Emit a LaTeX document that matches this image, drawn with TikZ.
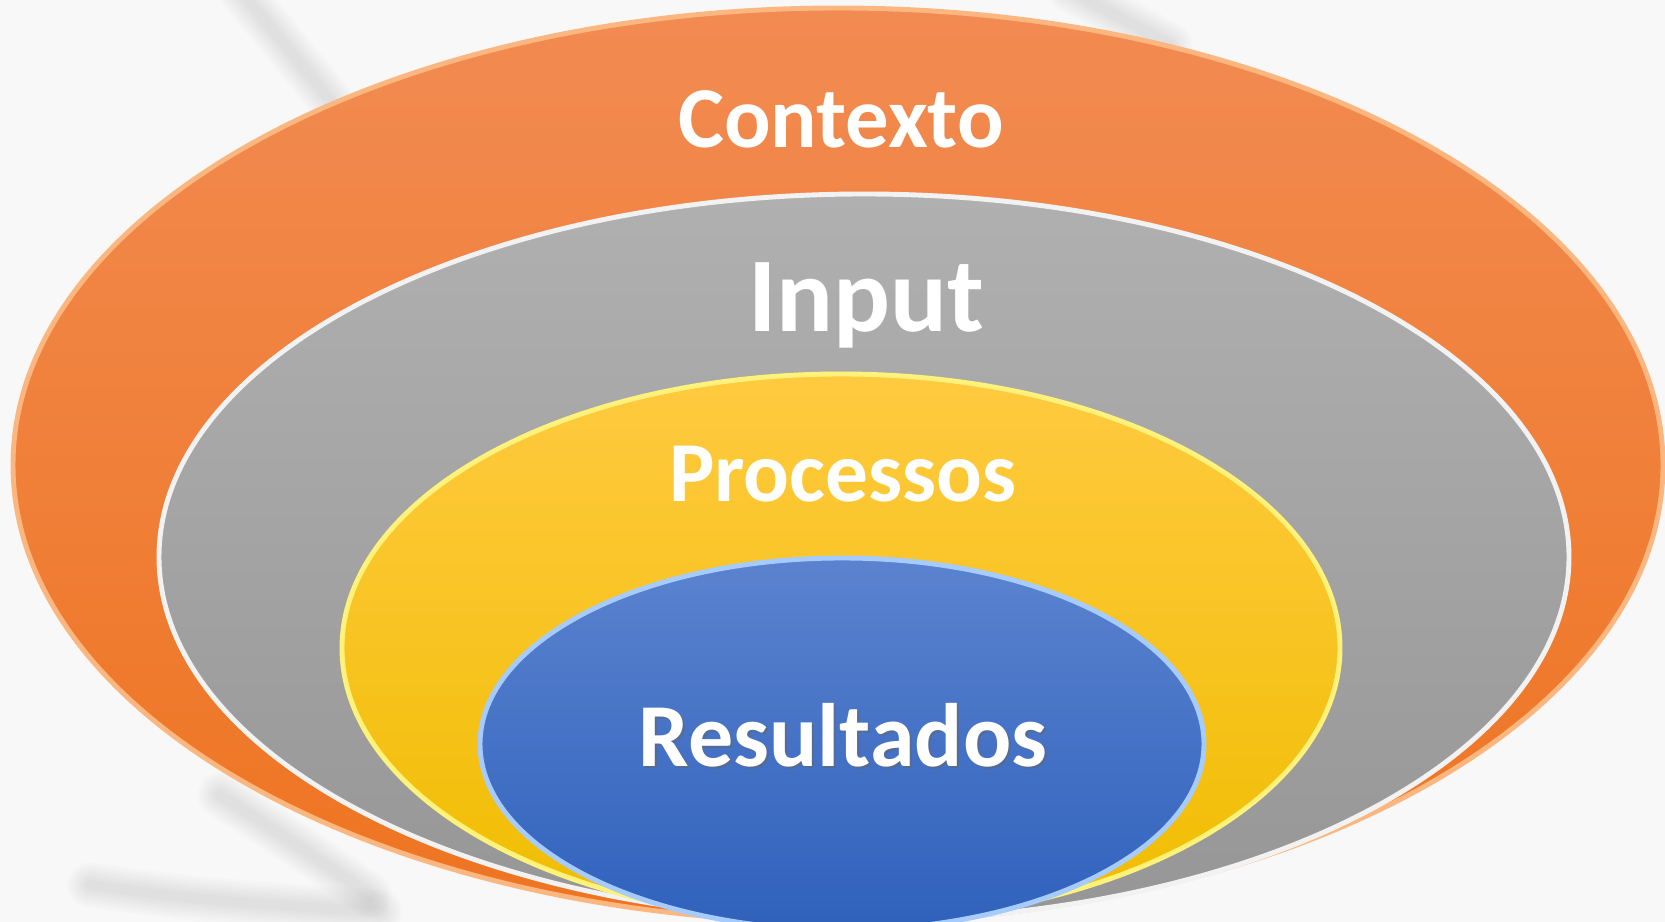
\documentclass[tikz,border=0pt]{standalone}
\usepackage{fontspec}
\setmainfont{Carlito}
\usetikzlibrary{shapes.geometric}
\usetikzlibrary{positioning}

\definecolor{bgcol}{HTML}{F8F8F8}
\definecolor{orangetop}{HTML}{F28B52}
\definecolor{orangebot}{HTML}{EE7420}
\definecolor{orangerim}{HTML}{FBB77F}
\definecolor{greytop}{HTML}{B0B0B0}
\definecolor{greybot}{HTML}{969696}
\definecolor{greyrim}{HTML}{F2F2F2}
\definecolor{yellowtop}{HTML}{FFCA40}
\definecolor{yellowbot}{HTML}{F0BD00}
\definecolor{yellowrim}{HTML}{FFF27A}
\definecolor{bluetop}{HTML}{5B83CF}
\definecolor{bluebot}{HTML}{2F61BC}
\definecolor{bluerim}{HTML}{A6CBFF}

\begin{document}
\begin{tikzpicture}
        % Define styles for shapes
        \tikzstyle{ring} = [ellipse, inner sep=0pt, line width=1.4pt]
        \tikzstyle{ringlabel} = [text=white, anchor=base, inner sep=0pt]
        \tikzstyle{streak} = [line cap=round, draw=black, opacity=0.012]

        % Background
        \fill[bgcol] (0,0) rectangle (16.65,-9.22);
        \useasboundingbox (0,0) rectangle (16.65,-9.22);
        \foreach \w in {0.45,0.4,0.35,0.3,0.25,0.2,0.15,0.1} {
            \draw[streak, line width=\w cm] (2.4,0.1) -- (3.3,-1.0);
            \draw[streak, line width=\w cm] (10.7,0.1) -- (11.7,-0.45);
            \draw[streak, line width=\w cm] (0.9,-8.85) .. controls (2.0,-9.0) .. (3.8,-9.12);
            \draw[streak, line width=\w cm] (2.2,-7.95) .. controls (2.9,-8.4) .. (3.7,-8.95);
        }

        % Draw shapes
        \node[ring, draw=orangerim, top color=orangetop, bottom color=orangebot,
              minimum width=16.5cm, minimum height=9.14cm] (contexto) at (8.38,-4.65) {};
        \node[ring, draw=greyrim, top color=greytop, bottom color=greybot,
              minimum width=14.1cm, minimum height=7.26cm] (input) at (8.64,-5.57) {};
        \node[ring, draw=yellowrim, top color=yellowtop, bottom color=yellowbot,
              minimum width=9.98cm, minimum height=5.48cm] (processos) at (8.41,-6.48) {};
        \node[ring, draw=bluerim, top color=bluetop, bottom color=bluebot,
              minimum width=7.24cm, minimum height=3.72cm] (resultados) at (8.42,-7.44) {};

        % Draw labels
        \node[ringlabel, font=\fontsize{24.7}{30}\selectfont\bfseries] (lblcontexto) at (8.41,-1.48) {Contexto};
        \node[ringlabel, font=\fontsize{30.2}{36}\selectfont\bfseries] (lblinput) at (8.66,-3.32) {Input};
        \node[ringlabel, font=\fontsize{24.3}{30}\selectfont\bfseries] (lblprocessos) at (8.43,-5.02) {Processos};
        \node[ringlabel, text=black!60, opacity=0.5, font=\fontsize{25.6}{32}\selectfont\bfseries] at (8.45,-7.69) {Resultados};
        \node[ringlabel, font=\fontsize{25.6}{32}\selectfont\bfseries] (lblresultados) at (8.43,-7.67) {Resultados};
\end{tikzpicture}
\end{document}
